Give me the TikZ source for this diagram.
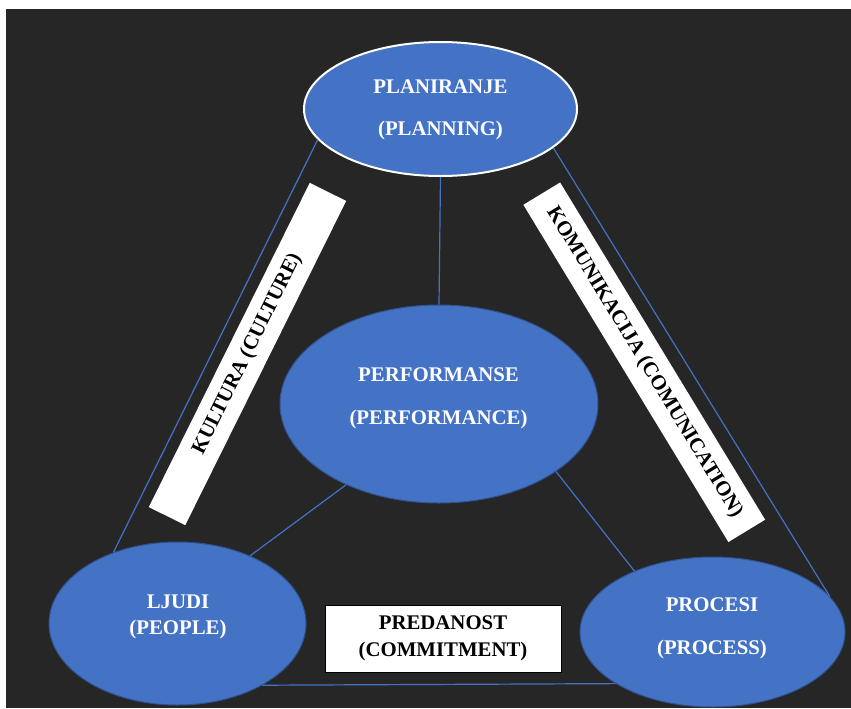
\documentclass[tikz,border=0pt]{standalone}
\usepackage{fontspec}
\setmainfont{Liberation Serif}
\usetikzlibrary{shapes.geometric}

\definecolor{bgdark}{RGB}{38,38,38}
\definecolor{officeblue}{RGB}{68,114,196}
\definecolor{officeedge}{RGB}{47,82,143}

\tikzset{
  bubble/.style={ellipse, fill=officeblue, draw=officeedge, line width=0.75, inner sep=0pt},
  bubbletext/.style={text=white, align=center, inner sep=0pt, font=\bfseries\fontsize{15.6}{32}\selectfont},
  bubbletight/.style={bubbletext, font=\bfseries\fontsize{15.6}{19.5}\selectfont},
  panel/.style={fill=white, draw=black, line width=0.5, inner sep=0pt, text=black, align=center, font=\bfseries\fontsize{15.6}{20}\selectfont},
  link/.style={draw=officeblue, line width=0.9}
}

\begin{document}
\begin{tikzpicture}[x=0.75pt,y=0.75pt,yscale=-1,xscale=1]
\useasboundingbox (0,0) rectangle (851,708);
\fill[white] (0,0) rectangle (851,708);
%Shape: Rectangle (background)
\fill[bgdark] (6,9) rectangle (851,708);

%Shape: Ellipse (planning)
\node[bubble, draw=white, line width=1.5, minimum width=204.75pt, minimum height=100.5pt] (plan) at (440.5,109) {};
%Shape: Ellipse (performance)
\node[bubble, minimum width=238.5pt, minimum height=148.5pt] (perf) at (439,404) {};
%Shape: Ellipse (people)
\node[bubble, minimum width=192.75pt, minimum height=122.25pt] (people) at (177.5,623.5) {};
%Shape: Ellipse (process)
\node[bubble, minimum width=198.75pt, minimum height=112.5pt] (process) at (712.5,632) {};

%Straight Lines
\draw[link] (plan.194) -- (people.132.5);
\draw[link] (plan.south) -- (perf.north);
\draw[link] (plan.341) -- (process.17.8);
\draw[link] (perf.221.7) -- (people.43);
\draw[link] (perf.330) -- (process.142.3);
\draw[link] (people.324.9) -- (process.208.6);

%Text
\node[bubbletext] (plan-t) at (440.5,110) {PLANIRANJE\\(PLANNING)};
\node[bubbletext] (perf-t) at (438.5,398) {PERFORMANSE\\(PERFORMANCE)};
\node[bubbletight] (people-t) at (178,617) {LJUDI\\(PEOPLE)};
\node[bubbletext] (process-t) at (712,628) {PROCESI\\(PROCESS)};

%Shape: Rectangle (labels)
\node[panel, draw=none, rotate=63.6, minimum width=271.5pt, minimum height=30.5pt] (culture) at (247.5,354) {KULTURA (CULTURE)};
\node[panel, draw=none, rotate=-58.7, minimum width=296pt, minimum height=32.25pt] (comm) at (644.25,362.25) {KOMUNIKACIJA (COMUNICATION)};
\node[panel, minimum width=177pt, minimum height=50.25pt] (commit) at (443,638.5) {PREDANOST\\(COMMITMENT)};
\end{tikzpicture}
\end{document}
